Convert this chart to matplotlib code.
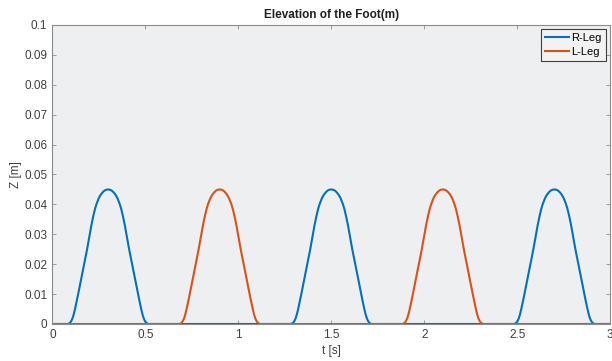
from matplotlib import pyplot as plt
import numpy as np

plt.rcParams['font.family'] = ['Liberation Sans', 'DejaVu Sans']

# foot trajectory
# half profile of one swing: offset from peak [s] and height [m]
swing_offset = [0.000, 0.010, 0.020, 0.030, 0.040, 0.050, 0.062, 0.070, 0.080, 0.090,
                0.098, 0.106, 0.113, 0.121, 0.129, 0.137, 0.145, 0.153, 0.161, 0.170,
                0.178, 0.185, 0.192, 0.200, 0.207, 0.215]
swing_height = [0.0450, 0.0449, 0.0446, 0.0440, 0.0432, 0.0421, 0.0402, 0.0386, 0.0360, 0.0330,
                0.0302, 0.0275, 0.0250, 0.0225, 0.0200, 0.0175, 0.0150, 0.0125, 0.0100, 0.0073,
                0.0050, 0.0032, 0.0018, 0.0008, 0.0003, 0.0]

r_peaks = [0.3, 1.5, 2.7]
l_peaks = [0.9, 2.1]
t_start, t_end = 0.0, 3.0


def build_leg(peaks):
    off = np.array(swing_offset)
    h = np.array(swing_height)
    # mirror the half profile into a full swing
    d = np.concatenate([-off[::-1], off[1:]])
    z = np.concatenate([h[::-1], h[1:]])
    t_all = [t_start]
    z_all = [0.0]
    for p in peaks:
        t_all.extend(p + d)
        z_all.extend(z)
    t_all.append(t_end)
    z_all.append(0.0)
    return t_all, z_all


t_r, z_r = build_leg(r_peaks)
t_l, z_l = build_leg(l_peaks)

fig = plt.figure(figsize=(6.12, 3.61), dpi=100)
ax = fig.add_axes([0.0855, 0.1025, 0.9115, 0.8283])
ax.set_facecolor('#eeeff1')

ax.plot(t_r, z_r, color='#0072BD', lw=1.5, label='R-Leg')
ax.plot(t_l, z_l, color='#D95319', lw=1.5, label='L-Leg')

ax.set_xlim(0, 3)
ax.set_ylim(0, 0.1)
ax.set_xticks([0, 0.5, 1, 1.5, 2, 2.5, 3])
ax.set_xticklabels(['0', '0.5', '1', '1.5', '2', '2.5', '3'])
ax.set_yticks(np.arange(0, 0.11, 0.01))
ax.set_yticklabels(['0', '0.01', '0.02', '0.03', '0.04', '0.05', '0.06', '0.07', '0.08', '0.09', '0.1'])

for s in ax.spines.values():
    s.set_color('#8c8c8c')
    s.set_linewidth(0.8)
ax.tick_params(direction='in', length=3, width=0.6, color='#8c8c8c', labelcolor='#404040',
               labelsize=8.5, top=True, right=True)

ax.set_title('Elevation of the Foot(m)', fontsize=8.5, fontweight='bold', color='#202020', pad=5)
ax.set_xlabel('t [s]', fontsize=8.5, color='#404040', labelpad=3)
ax.set_ylabel('Z [m]', fontsize=8.5, color='#404040', labelpad=2)

leg = ax.legend(loc='upper right', fontsize=8, handlelength=2.2, handletextpad=0.2,
                borderpad=0.35, labelspacing=0.3, borderaxespad=0.4, fancybox=False,
                facecolor='#f2f2f3', edgecolor='#404040', framealpha=1)
leg.get_frame().set_linewidth(0.8)

fig.savefig('out.png', dpi=100)
